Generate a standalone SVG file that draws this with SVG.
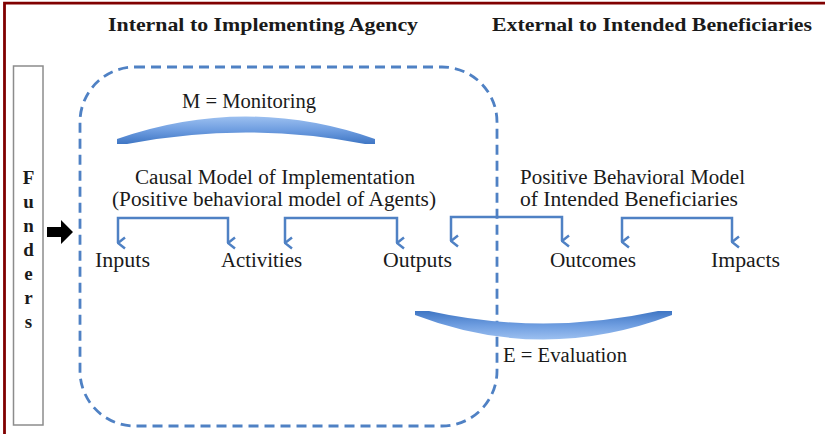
<svg xmlns="http://www.w3.org/2000/svg" width="825" height="434" viewBox="0 0 825 434">
<style>
.t{font-family:"Liberation Serif","DejaVu Serif",serif;fill:#1a1a1a;font-size:20px}
.b{font-weight:bold;font-size:19px}
.f{font-weight:bold;font-size:19px;text-anchor:middle}
.br{fill:none;stroke:#4f81c4;stroke-width:2.5;stroke-linejoin:miter}
</style>
<defs>
<marker id="ah" viewBox="0 0 14 10" refX="7" refY="8.5" markerWidth="14" markerHeight="10" markerUnits="userSpaceOnUse" orient="auto-start-reverse">
<path d="M1.5,1.5 L7,8.5 L12.5,1.5" fill="none" stroke="#4f81c4" stroke-width="2.5"/>
</marker>
<linearGradient id="gm" x1="0" y1="0" x2="0" y2="1">
<stop offset="0" stop-color="#9cc0f0"/>
<stop offset="0.5" stop-color="#6e9de0"/>
<stop offset="1" stop-color="#3f76c4"/>
</linearGradient>
<linearGradient id="ge" x1="0" y1="0" x2="0" y2="1">
<stop offset="0" stop-color="#3f76c4"/>
<stop offset="0.5" stop-color="#6e9de0"/>
<stop offset="1" stop-color="#9cc0f0"/>
</linearGradient>
</defs>
<rect width="825" height="434" fill="#fff"/>
<path d="M4.5,434 L4.5,3.2 L825,3.2" fill="none" stroke="#800000" stroke-width="2.8"/>

<text class="t b" x="108" y="31" textLength="310" lengthAdjust="spacingAndGlyphs">Internal to Implementing Agency</text>
<text class="t b" x="492" y="31" textLength="320" lengthAdjust="spacingAndGlyphs">External to Intended Beneficiaries</text>

<g id="funders">
<rect x="13.5" y="66" width="29.5" height="359" fill="#fff" stroke="#8c8c8c" stroke-width="1.5"/>
<text class="t f" x="28.5" y="184">F</text>
<text class="t f" x="28.5" y="208">u</text>
<text class="t f" x="28.5" y="232">n</text>
<text class="t f" x="28.5" y="256">d</text>
<text class="t f" x="28.5" y="280">e</text>
<text class="t f" x="28.5" y="304">r</text>
<text class="t f" x="28.5" y="328">s</text>
</g>

<g id="funders-arrow">
<path d="M47,227 L61,227 L61,220 L73,232 L61,244 L61,237 L47,237 Z" fill="#000"/>
</g>

<g id="agency-boundary">
<rect x="80" y="67" width="417" height="359" rx="55" ry="55" fill="none" stroke="#4f81c4" stroke-width="2.8" stroke-dasharray="10 6"/>
</g>

<g id="monitoring">
<path d="M117,144 L117,139 Q246,94 375,139 L375,144 L365,144 Q246,121 127,144 Z" fill="url(#gm)"/>
<text class="t" x="182" y="108" textLength="134" lengthAdjust="spacingAndGlyphs">M = Monitoring</text>
</g>

<g id="evaluation">
<path d="M415,311 L429,311 Q543,336 658,311 L672,311 L672,315 Q543,364 415,315 Z" fill="url(#ge)"/>
<text class="t" x="503" y="362" textLength="124" lengthAdjust="spacingAndGlyphs">E = Evaluation</text>
</g>

<g id="implementation-model">
<text class="t" x="135" y="184" textLength="280" lengthAdjust="spacingAndGlyphs">Causal Model of Implementation</text>
<text class="t" x="112" y="206" textLength="324" lengthAdjust="spacingAndGlyphs">(Positive behavioral model of Agents)</text>
</g>

<g id="beneficiary-model">
<text class="t" x="520" y="184" textLength="225" lengthAdjust="spacingAndGlyphs">Positive Behavioral Model</text>
<text class="t" x="520" y="206" textLength="218" lengthAdjust="spacingAndGlyphs">of Intended Beneficiaries</text>
</g>

<g id="inputs"><text class="t" x="95" y="267" textLength="55" lengthAdjust="spacingAndGlyphs">Inputs</text></g>
<g id="activities"><text class="t" x="221" y="267" textLength="81" lengthAdjust="spacingAndGlyphs">Activities</text></g>
<g id="outputs"><text class="t" x="383" y="267" textLength="69" lengthAdjust="spacingAndGlyphs">Outputs</text></g>
<g id="outcomes"><text class="t" x="550" y="267" textLength="86" lengthAdjust="spacingAndGlyphs">Outcomes</text></g>
<g id="impacts"><text class="t" x="711" y="267" textLength="69" lengthAdjust="spacingAndGlyphs">Impacts</text></g>

<g id="connectors">
<path class="br" d="M118,243 L118,218 L228,218 L228,243" marker-start="url(#ah)" marker-end="url(#ah)"/>
<path class="br" d="M285,243 L285,218 L397,218 L397,243" marker-start="url(#ah)" marker-end="url(#ah)"/>
<path class="br" d="M451,241 L451,217 L562,217 L562,241" marker-start="url(#ah)" marker-end="url(#ah)"/>
<path class="br" d="M622,242 L622,218 L732,218 L732,242" marker-start="url(#ah)" marker-end="url(#ah)"/>
</g>
</svg>
